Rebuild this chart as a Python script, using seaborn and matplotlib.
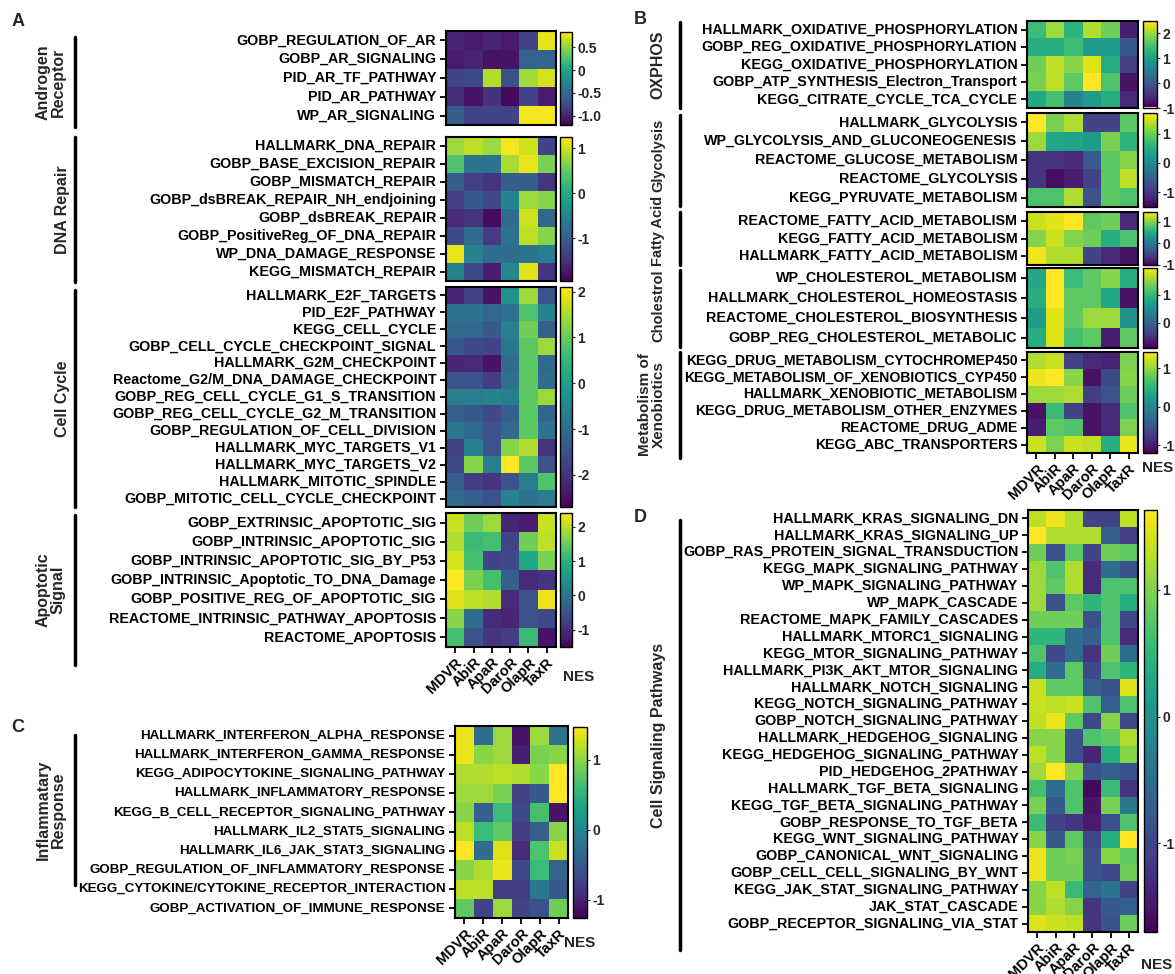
import numpy as np
import pandas as pd
import matplotlib
matplotlib.use("Agg")
import matplotlib.pyplot as plt
from matplotlib.lines import Line2D
import seaborn as sns

sns.set_theme(style="white")
plt.rcParams['font.family'] = ['Liberation Sans', 'DejaVu Sans']
plt.rcParams['font.weight'] = 'bold'

samples = ["MDVR", "AbiR", "ApaR", "DaroR", "OlapR", "TaxR"]

# ---------------- Panel A ----------------
A1_rows = ["GOBP_REGULATION_OF_AR", "GOBP_AR_SIGNALING", "PID_AR_TF_PATHWAY", "PID_AR_PATHWAY", "WP_AR_SIGNALING"]
A1_vals = [
    [-1.00, -1.05, -1.00, -1.05, -0.80, 0.75],
    [-1.05, -1.00, -1.10, -1.10, -0.55, -0.55],
    [-0.80, -0.75, 0.60, -0.70, 0.55, 0.70],
    [-0.95, -1.10, -0.90, -1.15, -0.80, -1.05],
    [-0.60, -0.80, -0.80, -0.80, 0.80, 0.80],
]
A2_rows = ["HALLMARK_DNA_REPAIR", "GOBP_BASE_EXCISION_REPAIR", "GOBP_MISMATCH_REPAIR", "GOBP_dsBREAK_REPAIR_NH_endjoining",
           "GOBP_dsBREAK_REPAIR", "GOBP_PositiveReg_OF_DNA_REPAIR", "WP_DNA_DAMAGE_RESPONSE", "KEGG_MISMATCH_REPAIR"]
A2_vals = [
    [0.77, 0.93, 0.77, 1.20, 1.00, -1.30],
    [0.35, -0.73, -0.73, 0.85, 1.15, 0.60],
    [-1.00, -1.37, -1.47, -1.00, -1.00, -1.47],
    [-1.37, -1.05, -1.25, -0.50, 0.77, 0.67],
    [-1.57, -1.47, -1.85, -0.83, 1.00, -0.90],
    [-1.25, -0.83, -1.40, -0.77, 0.93, 0.67],
    [1.15, -0.50, -0.83, -0.83, -0.73, -0.60],
    [-0.57, -1.25, -1.70, -0.45, 1.10, -1.47],
]
A3_rows = ["HALLMARK_E2F_TARGETS", "PID_E2F_PATHWAY", "KEGG_CELL_CYCLE", "GOBP_CELL_CYCLE_CHECKPOINT_SIGNAL",
           "HALLMARK_G2M_CHECKPOINT", "Reactome_G2/M_DNA_DAMAGE_CHECKPOINT", "GOBP_REG_CELL_CYCLE_G1_S_TRANSITION",
           "GOBP_REG_CELL_CYCLE_G2_M_TRANSITION", "GOBP_REGULATION_OF_CELL_DIVISION", "HALLMARK_MYC_TARGETS_V1",
           "HALLMARK_MYC_TARGETS_V2", "HALLMARK_MITOTIC_SPINDLE", "GOBP_MITOTIC_CELL_CYCLE_CHECKPOINT"]
A3_vals = [
    [-2.20, -1.74, -2.46, -0.30, 1.38, -1.50],
    [-0.88, -0.88, -1.10, -0.92, 0.76, -0.54],
    [-1.10, -1.10, -1.36, -0.68, 1.04, -1.26],
    [-1.36, -1.64, -1.74, -0.78, 0.90, 1.38],
    [-2.20, -2.12, -2.46, -1.02, 0.90, -1.10],
    [-1.50, -1.50, -1.84, -0.92, 0.90, -1.02],
    [-0.68, -0.68, -0.54, -0.68, 0.90, 1.38],
    [-1.26, -1.36, -1.64, -1.26, 0.90, -1.16],
    [-0.78, -1.10, -1.50, -1.10, 0.90, -0.88],
    [-1.74, -0.68, -1.50, 1.24, 1.52, -1.98],
    [-1.64, 1.24, -0.68, 2.10, 0.90, -1.50],
    [-1.26, -1.84, -1.98, -1.50, -0.68, 0.76],
    [-1.10, -1.26, -1.50, -0.54, -0.92, -0.68],
]
A4_rows = ["GOBP_EXTRINSIC_APOPTOTIC_SIG", "GOBP_INTRINSIC_APOPTOTIC_SIG", "GOBP_INTRINSIC_APOPTOTIC_SIG_BY_P53",
           "GOBP_INTRINSIC_Apoptotic_TO_DNA_Damage", "GOBP_POSITIVE_REG_OF_APOPTOTIC_SIG",
           "REACTOME_INTRINSIC_PATHWAY_APOPTOSIS", "REACTOME_APOPTOSIS"]
A4_vals = [
    [2.09, 1.54, 1.82, -1.11, -1.19, 2.09],
    [1.93, 1.15, 1.23, -0.72, 1.54, 2.01],
    [2.13, 1.23, -0.72, -0.64, 0.84, 1.62],
    [2.40, 1.62, 1.23, -0.33, -1.03, -0.92],
    [2.20, 2.01, 1.93, -1.03, -0.52, 2.28],
    [1.70, -0.13, -1.03, -1.11, -0.52, -0.64],
    [1.23, -0.52, -0.92, -0.80, 1.15, -1.30],
]

# ---------------- Panel C ----------------
C_rows = ["HALLMARK_INTERFERON_ALPHA_RESPONSE", "HALLMARK_INTERFERON_GAMMA_RESPONSE", "KEGG_ADIPOCYTOKINE_SIGNALING_PATHWAY",
          "HALLMARK_INFLAMMATORY_RESPONSE", "KEGG_B_CELL_RECEPTOR_SIGNALING_PATHWAY", "HALLMARK_IL2_STAT5_SIGNALING",
          "HALLMARK_IL6_JAK_STAT3_SIGNALING", "GOBP_REGULATION_OF_INFLAMMATORY_RESPONSE",
          "KEGG_CYTOKINE/CYTOKINE_RECEPTOR_INTERACTION", "GOBP_ACTIVATION_OF_IMMUNE_RESPONSE"]
C_vals = [
    [1.39, -0.30, 1.06, -1.12, 1.06, -0.22],
    [1.39, 0.98, 1.06, -1.04, 0.92, 0.98],
    [1.14, 1.14, 1.20, 1.14, 0.98, 1.47],
    [1.06, 1.06, 0.92, -0.71, -0.50, 1.47],
    [0.98, -0.44, 0.60, -0.66, 0.65, -1.12],
    [1.20, 0.60, 0.79, -0.77, -0.44, 0.98],
    [1.47, -0.30, 1.33, -0.93, 0.70, 1.25],
    [0.98, 1.14, 1.39, -0.66, 0.60, -0.39],
    [1.20, 1.20, -0.77, -0.77, -0.17, -0.50],
    [0.79, -0.71, 1.06, -0.71, -0.58, 0.87],
]

# ---------------- Panel B ----------------
B1_rows = ["HALLMARK_OXIDATIVE_PHOSPHORYLATION", "GOBP_REG_OXIDATIVE_PHOSPHORYLATION", "KEGG_OXIDATIVE_PHOSPHORYLATION",
           "GOBP_ATP_SYNTHESIS_Electron_Transport", "KEGG_CITRATE_CYCLE_TCA_CYCLE"]
B1_vals = [
    [1.40, 1.98, 1.29, 2.09, 1.74, -0.67],
    [1.19, 1.19, 1.40, 0.95, 0.95, 0.02],
    [1.74, 2.16, 1.88, 2.33, 1.19, -0.33],
    [1.81, 2.16, 1.64, 2.50, 1.53, -0.78],
    [1.12, 1.47, 0.60, 0.95, 1.19, -0.54],
]
B2_rows = ["HALLMARK_GLYCOLYSIS", "WP_GLYCOLYSIS_AND_GLUCONEOGENESIS", "REACTOME_GLUCOSE_METABOLISM",
           "REACTOME_GLYCOLYSIS", "KEGG_PYRUVATE_METABOLISM"]
B2_vals = [
    [1.70, 1.06, 1.32, -0.86, -0.86, 0.90],
    [1.22, 0.42, 0.36, 0.26, 1.06, 0.58],
    [-1.02, -1.02, -1.12, -0.60, 0.90, 1.12],
    [-1.02, -1.40, -1.24, -0.86, 0.90, 1.38],
    [0.80, 0.80, 1.32, -0.70, 0.90, 0.80],
]
B3_rows = ["REACTOME_FATTY_ACID_METABOLISM", "KEGG_FATTY_ACID_METABOLISM", "HALLMARK_FATTY_ACID_METABOLISM"]
B3_vals = [
    [1.25, 1.33, 1.45, 0.84, 0.91, -0.71],
    [1.00, 1.25, 1.00, 0.91, 0.52, 0.76],
    [1.40, 1.16, 1.16, -0.51, -0.71, -0.88],
]
B4_rows = ["WP_CHOLESTEROL_METABOLISM", "HALLMARK_CHOLESTEROL_HOMEOSTASIS", "REACTOME_CHOLESTEROL_BIOSYNTHESIS",
           "GOBP_REG_CHOLESTEROL_METABOLIC"]
B4_vals = [
    [0.81, 1.95, 1.04, 1.24, 1.44, 0.87],
    [0.87, 1.95, 1.24, 1.24, 0.81, -0.76],
    [0.67, 1.81, 1.24, 1.52, 1.52, 0.53],
    [0.87, 1.81, 1.10, 1.24, -0.67, 1.24],
]
B5_rows = ["KEGG_DRUG_METABOLISM_CYTOCHROMEP450", "KEGG_METABOLISM_OF_XENOBIOTICS_CYP450", "HALLMARK_XENOBIOTIC_METABOLISM",
           "KEGG_DRUG_METABOLISM_OTHER_ENZYMES", "REACTOME_DRUG_ADME", "KEGG_ABC_TRANSPORTERS"]
B5_vals = [
    [1.11, 1.21, -0.68, -0.89, -0.94, 0.90],
    [1.34, 1.42, 0.95, -1.07, -0.62, 0.95],
    [1.03, 1.03, 1.11, -0.73, -0.54, 0.84],
    [-1.07, 0.58, -0.68, -1.07, -0.89, 0.69],
    [-0.99, 0.77, 0.69, -1.07, -0.89, 0.90],
    [1.21, 0.90, 1.21, 1.16, 0.42, 1.34],
]

# ---------------- Panel D ----------------
D_rows = ["HALLMARK_KRAS_SIGNALING_DN", "HALLMARK_KRAS_SIGNALING_UP", "GOBP_RAS_PROTEIN_SIGNAL_TRANSDUCTION",
          "KEGG_MAPK_SIGNALING_PATHWAY", "WP_MAPK_SIGNALING_PATHWAY", "WP_MAPK_CASCADE", "REACTOME_MAPK_FAMILY_CASCADES",
          "HALLMARK_MTORC1_SIGNALING", "KEGG_MTOR_SIGNALING_PATHWAY", "HALLMARK_PI3K_AKT_MTOR_SIGNALING",
          "HALLMARK_NOTCH_SIGNALING", "KEGG_NOTCH_SIGNALING_PATHWAY", "GOBP_NOTCH_SIGNALING_PATHWAY",
          "HALLMARK_HEDGEHOG_SIGNALING", "KEGG_HEDGEHOG_SIGNALING_PATHWAY", "PID_HEDGEHOG_2PATHWAY",
          "HALLMARK_TGF_BETA_SIGNALING", "KEGG_TGF_BETA_SIGNALING_PATHWAY", "GOBP_RESPONSE_TO_TGF_BETA",
          "KEGG_WNT_SIGNALING_PATHWAY", "GOBP_CANONICAL_WNT_SIGNALING", "GOBP_CELL_CELL_SIGNALING_BY_WNT",
          "KEGG_JAK_STAT_SIGNALING_PATHWAY", "JAK_STAT_CASCADE", "GOBP_RECEPTOR_SIGNALING_VIA_STAT"]
D_vals = [
    [1.30, 1.53, 1.23, -1.03, -1.03, 1.30],
    [1.63, 1.23, 1.23, 1.23, -0.70, -1.10],
    [0.90, -0.87, 0.80, -1.03, 0.90, 0.80],
    [1.13, 0.70, 1.23, -1.30, -0.53, -0.87],
    [1.13, 0.80, 1.23, -1.30, 0.70, 0.70],
    [1.13, -0.87, 0.80, 0.46, 0.70, 0.36],
    [0.90, 0.90, 0.90, -0.87, 0.70, -0.97],
    [0.46, 0.46, -0.53, -0.70, 0.70, -1.30],
    [0.70, -0.97, -0.53, -1.20, 0.90, -0.53],
    [0.36, -0.53, 0.80, -0.97, 0.70, 0.46],
    [1.36, 0.80, 0.80, -0.70, -0.87, 1.46],
    [1.36, 1.30, 1.36, 0.70, -0.70, 0.70],
    [1.30, 1.53, 0.80, -0.97, 1.03, -0.97],
    [1.03, 1.03, -0.87, 0.70, 0.80, 1.23],
    [1.30, 1.03, -0.87, -1.37, 0.36, 1.03],
    [1.13, 1.63, 1.03, -0.87, -0.70, -0.87],
    [0.63, -0.53, 0.70, -1.63, 0.56, -1.20],
    [0.96, -0.77, 0.70, -1.53, 0.96, -0.37],
    [0.56, -1.03, -1.20, -1.43, -0.87, 0.70],
    [1.03, -0.77, 0.80, -0.97, 0.36, 1.63],
    [1.53, 0.90, 0.96, -0.87, 1.03, 0.80],
    [1.53, 0.90, 0.90, -0.87, -0.97, 0.90],
    [1.03, 1.30, 0.56, -0.63, -0.43, -1.03],
    [1.03, 1.23, 1.03, -1.20, -0.77, -0.70],
    [1.46, 1.36, 1.30, -1.20, -0.87, 0.90],
]

W, H = 1175, 974
fig = plt.figure(figsize=(W / 100, H / 100), dpi=100)


def px_axes(l, t, r, b):
    return fig.add_axes([l / W, 1 - b / H, (r - l) / W, (b - t) / H])


def block(rows, vals, box, cbox, vmin, vmax, ticks, ticklabels, show_x=False, fs=10.3):
    df = pd.DataFrame(vals, index=rows, columns=samples)
    ax = px_axes(*box)
    cax = px_axes(*cbox)
    sns.heatmap(df, ax=ax, cbar_ax=cax, cmap="viridis", vmin=vmin, vmax=vmax,
                linewidths=0, square=False)
    for s in ax.spines.values():
        s.set_visible(True)
        s.set_color("black")
        s.set_linewidth(1.5)
    ax.set_yticks(np.arange(len(rows)) + 0.5)
    ax.set_yticklabels(rows, rotation=0, fontsize=fs, fontweight="bold", color="black")
    ax.tick_params(axis="y", left=True, length=4, width=1.3, color="black", pad=3)
    if show_x:
        ax.set_xticks(np.arange(len(samples)) + 0.5)
        ax.set_xticklabels(samples, rotation=45, ha="right", rotation_mode="anchor",
                           fontsize=10.5, fontweight="bold", color="black")
        ax.tick_params(axis="x", bottom=True, length=4, width=1.3, color="black", pad=2)
    else:
        ax.set_xticks([])
    ax.set_xlabel("")
    ax.set_ylabel("")
    cb = ax.collections[0].colorbar
    cb.set_ticks(ticks)
    cb.set_ticklabels(ticklabels)
    cb.outline.set_linewidth(1.0)
    cb.outline.set_edgecolor("black")
    cax.tick_params(labelsize=10, length=2, width=0.8, pad=2)
    for t in cax.get_yticklabels():
        t.set_fontweight("bold")
    return ax


# Panel A
AX0, AX1, AC0, AC1 = 446, 556, 560, 572
block(A1_rows, A1_vals, (AX0, 31, AX1, 125), (AC0, 32, AC1, 125), -1.2, 0.83,
      [0.5, 0, -0.5, -1.0], ["0.5", "0", "-0.5", "-1.0"])
block(A2_rows, A2_vals, (AX0, 137, AX1, 281), (AC0, 137, AC1, 281), -1.95, 1.25,
      [1, 0, -1], ["1", "0", "-1"])
block(A3_rows, A3_vals, (AX0, 287, AX1, 507), (AC0, 287, AC1, 507), -2.7, 2.1,
      [2, 1, 0, -1, -2], ["2", "1", "0", "-1", "-2"])
block(A4_rows, A4_vals, (AX0, 513, AX1, 647), (AC0, 513, AC1, 647), -1.5, 2.4,
      [2, 1, 0, -1], ["2", "1", "0", "-1"], show_x=True)

# Panel C
block(C_rows, C_vals, (455, 726, 568, 918), (573, 727, 587, 918), -1.26, 1.47,
      [1, 0, -1], ["1", "0", "-1"], show_x=True, fs=9.6)

# Panel B
BX0, BX1, BC0, BC1 = 1027, 1138, 1143, 1157
block(B1_rows, B1_vals, (BX0, 21, BX1, 108), (BC0, 21, BC1, 108), -0.95, 2.5,
      [2, 1, 0, -1], ["2", "1", "0", "-1"])
block(B2_rows, B2_vals, (BX0, 113, BX1, 207), (BC0, 113, BC1, 207), -1.5, 1.7,
      [1, 0, -1], ["1", "0", "-1"])
block(B3_rows, B3_vals, (BX0, 212, BX1, 265), (BC0, 212, BC1, 265), -1.0, 1.45,
      [1, 0, -1], ["1", "0", "-1"])
block(B4_rows, B4_vals, (BX0, 268, BX1, 348), (BC0, 268, BC1, 348), -0.9, 1.95,
      [1, 0], ["1", "0"])
block(B5_rows, B5_vals, (BX0, 352, BX1, 453), (BC0, 352, BC1, 453), -1.2, 1.42,
      [1, 0, -1], ["1", "0", "-1"], show_x=True, fs=10.1)

# Panel D
block(D_rows, D_vals, (1028, 510, 1138, 932), (1144, 510, 1157, 932), -1.7, 1.63,
      [1, 0, -1], ["1", "0", "-1"], show_x=True)


def ftext(x, y, s, **kw):
    fig.text(x / W, 1 - y / H, s, **kw)


def vbar(x, y0, y1):
    fig.add_artist(Line2D([x / W, x / W], [1 - y0 / H, 1 - y1 / H], color="black", lw=2.5,
                          transform=fig.transFigure))


# NES labels
for (x, y) in [(579, 677), (1158, 468), (580, 943), (1157, 965)]:
    ftext(x, y, "NES", fontsize=11, fontweight="bold", ha="center", va="center")

# Panel letters
for (x, y, s) in [(18, 22, "A"), (640, 20, "B"), (18, 728, "C"), (640, 518, "D")]:
    ftext(x, y, s, fontsize=13, fontweight="bold", ha="center", va="center")

# Group labels and brackets
groups = [
    (75, 37, 127, 51, "Androgen\nReceptor", 11.5),
    (75, 137, 282, 63, "DNA Repair", 11.5),
    (75, 290, 507, 63, "Cell Cycle", 11.5),
    (75, 515, 665, 51, "Apoptotic\nSignal", 11.5),
    (75, 735, 885, 51, "Inflammatary\nResponse", 11.5),
    (680, 22, 108, 658, "OXPHOS", 11.5),
    (680, 115, 206, 658, "Glycolysis", 10.5),
    (680, 212, 265, 658, "Fatty Acid", 10.5),
    (680, 270, 347, 658, "Cholestrol", 10.5),
    (680, 352, 458, 652, "Metabolism of\nXenobiotics", 11.0),
    (680, 520, 950, 658, "Cell Signaling Pathways", 11.5),
]
for bx, y0, y1, tx, s, fs in groups:
    vbar(bx, y0, y1)
    yc = (y0 + y1) / 2
    if s == "Glycolysis":
        yc = 155
    elif s == "Fatty Acid":
        yc = 231
    elif s == "Cholestrol":
        yc = 306
    ftext(tx, yc, s, fontsize=fs, fontweight="bold", rotation=90,
          ha="center", va="center", linespacing=1.0)

fig.savefig("out.png", dpi=100)
